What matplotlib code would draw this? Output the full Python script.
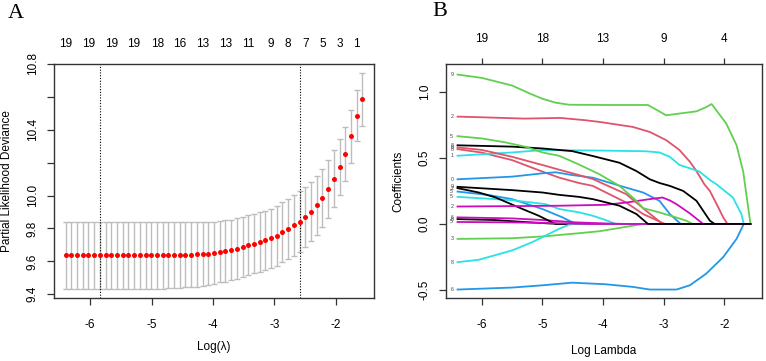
import numpy as np
import matplotlib
matplotlib.use("Agg")
import matplotlib.pyplot as plt

plt.rcParams['font.family'] = ['Liberation Sans', 'DejaVu Sans']
plt.rcParams['axes.unicode_minus'] = False

# ---- panel A: cross-validation curve ----
log_lambda = [-6.40, -6.31, -6.21, -6.12, -6.03, -5.94, -5.84, -5.75, -5.66, -5.56,
              -5.47, -5.38, -5.29, -5.19, -5.10, -5.01, -4.91, -4.82, -4.73, -4.63,
              -4.54, -4.45, -4.36, -4.26, -4.17, -4.08, -3.98, -3.89, -3.80, -3.71,
              -3.61, -3.52, -3.43, -3.33, -3.24, -3.15, -3.06, -2.96, -2.87, -2.78,
              -2.68, -2.59, -2.50, -2.41, -2.31, -2.22, -2.13, -2.03, -1.94, -1.85,
              -1.75, -1.66, -1.57]
cvm = [9.636] * 19 + [9.637, 9.638, 9.639, 9.640, 9.642, 9.644, 9.647, 9.653,
       9.659, 9.663, 9.669, 9.677, 9.687, 9.699, 9.707, 9.717, 9.727, 9.739,
       9.756, 9.776, 9.796, 9.818, 9.842, 9.871, 9.903, 9.941, 9.986, 10.040,
       10.103, 10.172, 10.253, 10.360, 10.485, 10.586]
cvsd = [0.206] * 13 + [0.205, 0.205, 0.204, 0.203, 0.202, 0.201, 0.200, 0.199,
        0.198, 0.197, 0.196, 0.194, 0.192, 0.189,
        0.186, 0.186, 0.185, 0.184, 0.183, 0.183, 0.181, 0.181, 0.180, 0.181,
        0.182, 0.182, 0.184, 0.184, 0.184, 0.183, 0.181, 0.178, 0.178, 0.177,
        0.173, 0.170, 0.165, 0.160, 0.155, 0.161]
log_lambda_min = -5.84
log_lambda_1se = -2.59
# number of non-zero coefficients shown on the top axis
nzero_pos = [-6.40, -6.03, -5.66, -5.29, -4.91, -4.54, -4.17, -3.80, -3.43,
             -3.06, -2.78, -2.50, -2.22, -1.94, -1.66]
nzero_lab = ['19', '19', '19', '19', '18', '16', '13', '13', '11',
             '9', '8', '7', '5', '3', '1']

# ---- panel B: coefficient paths ----
paths = {
    'V1':  ([-6.40, -5.8, -5.3, -4.9, -4.7, -1.57], [0.037, 0.03, 0.015, 0.004, 0, 0]),
    'V2':  ([-6.40, -6.0, -5.3, -4.7, -4.3, -4.06, -3.51, -3.23, -2.96, -2.74, -2.57,
             -2.46, -2.33, -2.24, -2.10, -2.02, -1.95, -1.57],
            [0.812, 0.807, 0.797, 0.802, 0.785, 0.772, 0.734, 0.696, 0.634, 0.559,
             0.471, 0.40, 0.30, 0.25, 0.125, 0.05, 0, 0]),
    'V3':  ([-6.40, -5.5, -4.95, -4.4, -4.06, -3.73, -3.51, -3.35, -1.57],
            [-0.113, -0.108, -0.093, -0.07, -0.055, -0.03, -0.013, 0, 0]),
    'V4':  ([-6.40, -5.9, -5.5, -5.0, -4.67, -4.45, -1.57],
            [0.245, 0.22, 0.188, 0.113, 0.05, 0, 0]),
    'V5':  ([-6.40, -5.5, -4.95, -4.72, -4.4, -4.17, -3.96, -3.79, -1.57],
            [0.205, 0.18, 0.15, 0.113, 0.088, 0.062, 0.03, 0, 0]),
    'V6':  ([-6.40, -5.5, -5.0, -4.45, -3.9, -3.6, -1.57],
            [0.05, 0.042, 0.03, 0.012, 0.003, 0, 0]),
    'V7':  ([-6.40, -6.05, -5.77, -5.39, -5.06, -4.84, -4.78, -1.57],
            [0.271, 0.238, 0.2, 0.125, 0.062, 0.012, 0, 0]),
    'V8':  ([-6.40, -6.0, -5.5, -5.0, -4.72, -4.4, -4.17, -3.62, -3.34, -2.98, -1.57],
            [0.566, 0.54, 0.483, 0.396, 0.35, 0.31, 0.288, 0.162, 0.075, 0, 0]),
    'V9':  ([-6.40, -6.0, -5.5, -5.2, -5.0, -4.78, -4.56, -4.0, -3.26, -2.96, -2.46,
             -2.30, -2.21, -1.97, -1.80, -1.69, -1.57],
            [1.13, 1.105, 1.047, 0.985, 0.947, 0.917, 0.902, 0.90, 0.90, 0.822, 0.852,
             0.884, 0.907, 0.76, 0.596, 0.396, 0]),
    'V10': ([-6.40, -5.5, -5.0, -4.78, -4.51, -4.17, -3.62, -3.34, -3.07, -2.90, -2.72, -1.57],
            [0.338, 0.358, 0.383, 0.391, 0.37, 0.35, 0.275, 0.238, 0.175, 0.075, 0, 0]),
    'V11': ([-6.40, -5.5, -5.0, -4.0, -3.3, -3.07, -2.90, -2.74, -2.57, -2.41, -2.24,
             -2.13, -1.86, -1.72, -1.68, -1.57],
            [0.516, 0.541, 0.559, 0.555, 0.55, 0.541, 0.508, 0.446, 0.421, 0.396, 0.333,
             0.30, 0.20, 0.075, 0, 0]),
    'V12': ([-6.40, -5.5, -4.72, -3.96, -3.62, -3.23, -3.02, -2.90, -2.79, -2.57, -2.35, -1.57],
            [0.132, 0.135, 0.138, 0.145, 0.162, 0.188, 0.2, 0.178, 0.15, 0.08, 0, 0]),
    'V13': ([-6.40, -5.5, -5.0, -4.51, -4.17, -3.73, -3.45, -3.23, -3.07, -2.90, -2.68,
             -2.46, -2.35, -2.24, -2.16, -1.57],
            [0.595, 0.585, 0.571, 0.551, 0.514, 0.463, 0.40, 0.338, 0.31, 0.288, 0.25,
             0.175, 0.10, 0.025, 0, 0]),
    'V14': ([-6.40, -6.0, -5.5, -5.0, -4.72, -4.4, -4.17, -3.62, -3.29, -3.02, -1.57],
            [0.579, 0.56, 0.508, 0.446, 0.41, 0.37, 0.34, 0.226, 0.10, 0, 0]),
    'V15': ([-6.40, -6.0, -5.61, -5.28, -5.0, -4.72, -4.4, -4.06, -3.73, -3.45, -3.34,
             -3.07, -2.80, -2.63, -2.52, -1.57],
            [0.664, 0.647, 0.617, 0.584, 0.541, 0.515, 0.45, 0.376, 0.288, 0.175, 0.12,
             0.087, 0.05, 0.025, 0, 0]),
    'V16': ([-6.40, -5.5, -5.0, -4.51, -3.96, -3.51, -3.23, -2.79, -2.57, -2.30, -2.02,
             -1.80, -1.68, -1.57],
            [-0.496, -0.481, -0.464, -0.444, -0.456, -0.476, -0.496, -0.496, -0.464,
             -0.376, -0.251, -0.113, 0, 0]),
    'V17': ([-6.40, -6.05, -5.5, -5.17, -4.95, -4.73, -4.56, -4.48, -1.57],
            [-0.289, -0.271, -0.2, -0.138, -0.088, -0.038, -0.005, 0, 0]),
    'V18': ([-6.40, -5.5, -5.0, -4.5, -4.2, -1.57],
            [0.015, 0.012, 0.008, 0.003, 0, 0]),
    'V19': ([-6.40, -5.5, -5.0, -4.72, -4.4, -4.17, -3.73, -3.45, -3.26, -1.57],
            [0.281, 0.256, 0.238, 0.22, 0.205, 0.188, 0.138, 0.075, 0, 0]),
}
# labels as printed at the left end of each path
path_labels = {'V1': '6', 'V2': '2', 'V3': '3', 'V4': '5', 'V5': '5', 'V6': '6',
               'V7': '2', 'V8': '8', 'V9': '9', 'V10': '0', 'V11': '1', 'V12': '2',
               'V13': '8', 'V14': '8', 'V15': '5', 'V16': '6', 'V17': '8', 'V18': '5',
               'V19': '9'}
df_pos = [-6, -5, -4, -3, -2]
df_lab = ['19', '18', '13', '9', '4']

# R default palette, recycled over the variables
r_pal = ['#000000', '#DF536B', '#61D04F', '#2297E6', '#28E2E5', '#CD0BBC']

W, H = 766, 361
fig = plt.figure(figsize=(W / 100, H / 100), dpi=100)
axA = fig.add_axes([54 / W, 1 - 298 / H, 320 / W, 234 / H])
axB = fig.add_axes([446 / W, 1 - 298 / H, 316 / W, 234 / H])

tick_fs = 8.5
for ax in (axA, axB):
    for s in ax.spines.values():
        s.set_color('#333333')
        s.set_linewidth(1.0)
    ax.tick_params(direction='out', length=5, width=0.9, color='#333333',
                   labelsize=tick_fs, pad=10)
    ax.tick_params(axis='y', pad=6)
    ax.set_xlim(-6.59, -1.38)
    ax.set_xticks([-6, -5, -4, -3, -2], ['-6', '-5', '-4', '-3', '-2'])

# panel A
axA.errorbar(log_lambda, cvm, yerr=cvsd, fmt='none', ecolor='#bdbdbd',
             elinewidth=1.0, capsize=2.2, capthick=1.0, zorder=1)
axA.plot(log_lambda, cvm, 'o', color='#ff0000', ms=3.6, mec='none', zorder=3)
axA.axvline(log_lambda_min, color='black', ls=(0, (1, 1.5)), lw=0.8)
axA.axvline(log_lambda_1se, color='black', ls=(0, (1, 1.5)), lw=0.8)
axA.set_ylim(9.377, 10.80)
axA.set_yticks([9.4, 9.6, 9.8, 10.0, 10.2, 10.4, 10.6, 10.8],
               ['9.4', '9.6', '9.8', '10.0', '', '10.4', '', '10.8'])
for lab in axA.get_yticklabels():
    lab.set_rotation(90)
    lab.set_va('center')
topA = axA.secondary_xaxis('top')
topA.set_xticks(nzero_pos, nzero_lab)
topA.tick_params(length=0, labelsize=tick_fs, pad=10)
topA.spines['top'].set_visible(False)

# panel B
for i, (name, (xs, ys)) in enumerate(paths.items()):
    axB.plot(xs, ys, color=r_pal[i % 6], lw=1.3, solid_joinstyle='round')
    axB.text(-6.47, ys[0], path_labels[name], fontsize=3.8, color='#444444',
             ha='right', va='center')
axB.set_ylim(-0.56, 1.21)
axB.set_yticks([-0.5, 0.0, 0.5, 1.0], ['-0.5', '0.0', '0.5', '1.0'])
for lab in axB.get_yticklabels():
    lab.set_rotation(90)
    lab.set_va('center')
topB = axB.secondary_xaxis('top')
topB.set_xticks(df_pos, df_lab)
topB.tick_params(direction='out', length=4, width=0.9, color='#333333',
                 labelsize=tick_fs, pad=10)
topB.spines['top'].set_visible(False)

# axis titles
fig.text(7 / W, 1 - 181 / H, 'Partial Likelihood Deviance', rotation=90,
         ha='center', va='center', fontsize=8.5)
fig.text(214 / W, 1 - 347 / H, 'Log(\u03bb)', ha='center', va='center', fontsize=8.5)
fig.text(398 / W, 1 - 181 / H, 'Coefficients', rotation=90,
         ha='center', va='center', fontsize=8.5)
fig.text(604 / W, 1 - 351 / H, 'Log Lambda', ha='center', va='center', fontsize=8.5)

# panel letters
fig.text(16 / W, 1 - 13 / H, 'A', family='Liberation Serif', fontsize=16,
         ha='center', va='center')
fig.text(440 / W, 1 - 12 / H, 'B', family='Liberation Serif', fontsize=16,
         ha='center', va='center')

fig.savefig('out.png', dpi=100)
